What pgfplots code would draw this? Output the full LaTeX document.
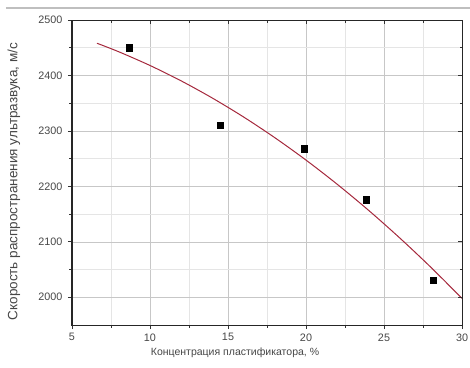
\documentclass[border=0pt]{standalone}
\usepackage{pgfplots}
\pgfplotsset{compat=1.18}
\usepackage{fontspec}
\setmainfont{Liberation Sans}
\definecolor{fitred}{RGB}{165,40,60}
\definecolor{txt}{RGB}{70,70,70}
\begin{document}
\begin{tikzpicture}
\pgfplotsset{common/.style={
  at={(0,0)}, anchor=south west,
  width=390pt, height=305pt, scale only axis,
  xmin=5, xmax=30, ymin=1950, ymax=2500,
  xtick={5,10,...,30}, ytick={2000,2100,...,2500},
  minor x tick num=1, minor y tick num=1,
  axis line style={black!85, line width=1pt},
  major tick style={black!80, line width=0.8pt},
  minor tick style={black!80, line width=0.6pt},
  major tick length=4pt, minor tick length=2.5pt,
}}
\begin{axis}[common,
  grid=both,
  major grid style={black!22, line width=0.6pt},
  minor grid style={black!10, line width=0.5pt},
  tick align=outside, tick pos=left,
  ticklabel style={font=\fontsize{10.8}{12}\selectfont, text=txt},
  /pgf/number format/assume math mode=true,
  /pgf/number format/1000 sep={},
  yticklabel style={xshift=-2pt},
  xticklabel style={yshift=-1pt},
  xlabel={Концентрация пластификатора, \%},
  ylabel={Скорость распространения ультразвука, м/с},
  xlabel style={at={(axis description cs:0.418,-0.092)}, anchor=center, font=\fontsize{10.5}{12}\selectfont, text=txt},
  ylabel style={at={(axis description cs:-0.149,0.47)}, anchor=center, font=\fontsize{13.5}{15}\selectfont, text=txt},
]
\addplot[fitred, line width=1pt, smooth] coordinates {
(6.6,2458.1) (8,2442.7) (10,2418.0) (12,2390.2) (14,2359.2) (16,2325.1)
(18,2287.8) (20,2247.4) (22,2203.8) (24,2157.1) (26,2107.2) (28,2054.2) (30,1998.0)};
\addplot[only marks, mark=square*, mark size=3.2pt, black] coordinates {
(8.65,2450) (14.5,2310) (19.9,2268) (23.85,2176) (28.15,2031)};
\end{axis}
\begin{axis}[common,
  tick align=inside, tick pos=right,
  xticklabels={}, yticklabels={},
]
\end{axis}
\draw[black!25, line width=1.5pt] (-66pt,317pt) -- (398pt,317pt);
\pgfresetboundingbox
\path[use as bounding box] (-72pt,-42pt) rectangle (398pt,325pt);
\end{tikzpicture}
\end{document}
